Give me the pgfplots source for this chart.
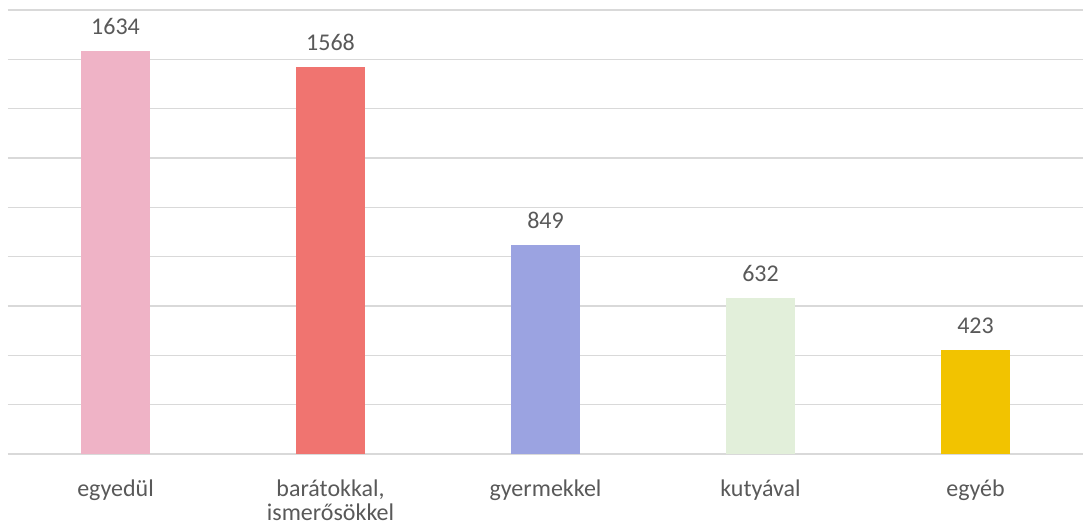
\documentclass[border=0pt]{standalone}
\usepackage{pgfplots}
\pgfplotsset{compat=1.18}
\usepackage{fontspec}
\setmainfont{Carlito}

\definecolor{txt}{HTML}{595959}
\definecolor{gridc}{HTML}{D9D9D9}
\definecolor{c1}{HTML}{EFB3C6}
\definecolor{c2}{HTML}{F07470}
\definecolor{c3}{HTML}{9BA3E1}
\definecolor{c4}{HTML}{E2EFDA}
\definecolor{c5}{HTML}{F2C300}

\begin{document}
\begin{tikzpicture}
\begin{axis}[
    width=537.5pt, height=222pt,
    scale only axis,
    ybar, bar width=0.32, bar shift=0pt,
    xmin=-0.5, xmax=4.5,
    ymin=0, ymax=1800,
    xtick={0,1,2,3,4},
    xticklabels={egyedül, {barátokkal,\\ismerősökkel}, gyermekkel, kutyával, egyéb},
    xticklabel style={align=center, font=\fontsize{12}{12}\selectfont, text=txt, yshift=-9.5pt},
    ytick={0,200,...,1800},
    yticklabels={},
    major tick length=0pt,
    ymajorgrids=true,
    grid style={gridc, line width=0.75pt},
    axis line style={draw=none},
    /pgf/number format/.cd, 1000 sep={}, assume math mode=true, /pgfplots/.cd,
    nodes near coords,
    nodes near coords style={font=\fontsize{12}{14}\selectfont, text=txt, yshift=4.5pt},
    clip=false,
]
\addplot[fill=c1, draw=none] coordinates {(0,1634)};
\addplot[fill=c2, draw=none] coordinates {(1,1568)};
\addplot[fill=c3, draw=none] coordinates {(2,849)};
\addplot[fill=c4, draw=none] coordinates {(3,632)};
\addplot[fill=c5, draw=none] coordinates {(4,423)};
\end{axis}
\pgfresetboundingbox
\path ([shift={(-4pt,-35.5pt)}]current axis.south west) rectangle ([shift={(0pt,5pt)}]current axis.north east);
\end{tikzpicture}
\end{document}
